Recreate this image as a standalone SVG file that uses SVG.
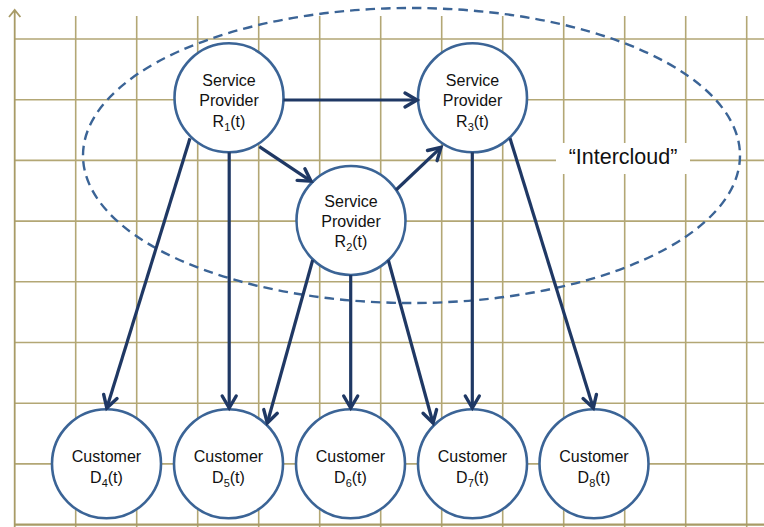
<svg xmlns="http://www.w3.org/2000/svg" width="764" height="527" viewBox="0 0 764 527">
<style>
.grid{stroke:#b3a775;stroke-width:1.6;fill:none}
.node{fill:#fff;stroke:#3b6496;stroke-width:2.6}
.lbl{font-family:"Liberation Sans",Arial,sans-serif;font-size:16px;fill:#111;text-anchor:middle}
.sub{font-size:11px}
.conn{stroke:#1f3864;stroke-width:3.2;fill:none;marker-end:url(#ah)}
</style>
<defs>
<marker id="ah" markerUnits="userSpaceOnUse" markerWidth="20" markerHeight="20" viewBox="-14 -10 16 20" refX="0" refY="0" orient="auto">
<path d="M-12,-7 L0,0 L-12,7" fill="none" stroke="#1f3864" stroke-width="3.4" stroke-linejoin="miter" stroke-linecap="round"/>
</marker>
</defs>
<rect width="764" height="527" fill="#fff"/>
<g id="grid">
<g class="grid">
<path d="M75.7,16V527M136.7,16V527M197.7,16V527M258.7,16V527M319.7,16V527M380.7,16V527M441.7,16V527M502.7,16V527M563.7,16V527M624.7,16V527M685.7,16V527M746.7,16V527"/>
<path d="M14.7,39H764M14.7,99.7H764M14.7,160.4H764M14.7,221.1H764M14.7,281.8H764M14.7,342.5H764M14.7,403.2H764M14.7,463.9H764"/>
</g>
<path d="M14.7,524.6H764" stroke="#a89b66" stroke-width="2.2"/>
<path d="M14.7,527V10M9,17L14.7,10L20.4,17" stroke="#a89b66" stroke-width="1.8" fill="none"/>
</g>
<g id="intercloud">
<ellipse cx="411.5" cy="155.5" rx="328.5" ry="147.5" fill="none" stroke="#3b6496" stroke-width="2.4" stroke-dasharray="9.5 6"/>
<rect x="556" y="143" width="134" height="31" fill="#fff"/>
<text x="623" y="164" style="font-family:'Liberation Sans',Arial,sans-serif;font-size:21.5px;fill:#111;text-anchor:middle">“Intercloud”</text>
</g>
<g id="R1">
<circle class="node" cx="229" cy="97.8" r="54.5"/>
<text class="lbl" x="229" y="85.7">Service</text>
<text class="lbl" x="229" y="105.7">Provider</text>
<text class="lbl" x="229" y="126.7">R<tspan class="sub" dy="4">1</tspan><tspan dy="-4">(t)</tspan></text>
</g>
<g id="R2">
<circle class="node" cx="351" cy="220.5" r="54.5"/>
<text class="lbl" x="351" y="206.7">Service</text>
<text class="lbl" x="351" y="226.7">Provider</text>
<text class="lbl" x="351" y="247.3">R<tspan class="sub" dy="4">2</tspan><tspan dy="-4">(t)</tspan></text>
</g>
<g id="R3">
<circle class="node" cx="472.5" cy="97.8" r="54.5"/>
<text class="lbl" x="472.5" y="85.7">Service</text>
<text class="lbl" x="472.5" y="105.7">Provider</text>
<text class="lbl" x="472.5" y="126.7">R<tspan class="sub" dy="4">3</tspan><tspan dy="-4">(t)</tspan></text>
</g>
<g id="D4">
<circle class="node" cx="106.5" cy="463.8" r="54.5"/>
<text class="lbl" x="106.5" y="461.7">Customer</text>
<text class="lbl" x="106.5" y="482.7">D<tspan class="sub" dy="4">4</tspan><tspan dy="-4">(t)</tspan></text>
</g>
<g id="D5">
<circle class="node" cx="228.5" cy="463.8" r="54.5"/>
<text class="lbl" x="228.5" y="461.7">Customer</text>
<text class="lbl" x="228.5" y="482.7">D<tspan class="sub" dy="4">5</tspan><tspan dy="-4">(t)</tspan></text>
</g>
<g id="D6">
<circle class="node" cx="350.5" cy="463.8" r="54.5"/>
<text class="lbl" x="350.5" y="461.7">Customer</text>
<text class="lbl" x="350.5" y="482.7">D<tspan class="sub" dy="4">6</tspan><tspan dy="-4">(t)</tspan></text>
</g>
<g id="D7">
<circle class="node" cx="472.5" cy="463.8" r="54.5"/>
<text class="lbl" x="472.5" y="461.7">Customer</text>
<text class="lbl" x="472.5" y="482.7">D<tspan class="sub" dy="4">7</tspan><tspan dy="-4">(t)</tspan></text>
</g>
<g id="D8">
<circle class="node" cx="594" cy="463.8" r="54.5"/>
<text class="lbl" x="594" y="461.7">Customer</text>
<text class="lbl" x="594" y="482.7">D<tspan class="sub" dy="4">8</tspan><tspan dy="-4">(t)</tspan></text>
</g>
<g id="connectors">
<path class="conn" d="M283.5,100H417"/>
<path class="conn" d="M259.3,146.7L311,181.2"/>
<path class="conn" d="M396,190L441,147.3"/>
<path class="conn" d="M190,138.3L106.8,408"/>
<path class="conn" d="M229.2,152.3V408"/>
<path class="conn" d="M312.7,260L267.3,423"/>
<path class="conn" d="M350.7,275V408"/>
<path class="conn" d="M388.3,260L433,423"/>
<path class="conn" d="M472.3,152.3V408"/>
<path class="conn" d="M510,138.3L593.3,408"/>
</g>
</svg>
